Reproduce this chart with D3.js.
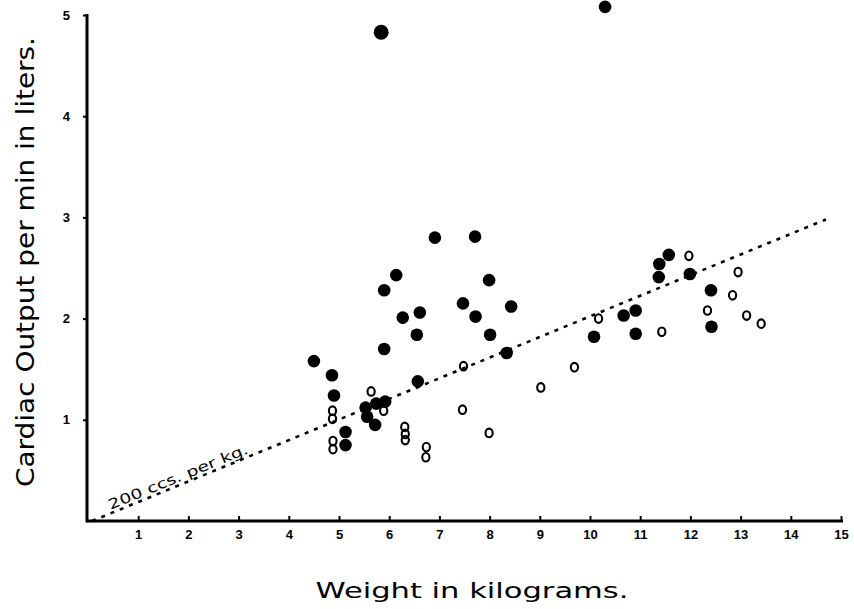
<!DOCTYPE html>
<html>
<head>
<meta charset="utf-8">
<script src="https://cdn.jsdelivr.net/npm/d3@7"></script>
<style>
  html, body { margin: 0; padding: 0; background: #fff; }
  svg { display: block; font-family: "DejaVu Sans", sans-serif; }
</style>
</head>
<body>
<div id="vis"></div>
<script>
// weight (kg) and cardiac output (L/min), filled dots
const filledKg = [5.84, 10.3, 4.5, 4.86, 4.9, 5.13, 5.13, 5.53, 5.74, 5.92, 5.56, 5.72, 6.57, 5.9,
  6.91, 7.71, 6.14, 5.9, 7.99, 7.47, 8.43, 6.61, 6.27, 7.72, 6.55, 8.01, 8.34,
  11.57, 11.38, 11.37, 11.99, 12.41, 12.42, 10.91, 10.67, 10.91, 10.08];
const filledOut = [4.83, 5.08, 1.58, 1.44, 1.24, 0.88, 0.75, 1.12, 1.16, 1.18, 1.03, 0.95, 1.38, 1.7,
  2.8, 2.81, 2.43, 2.28, 2.38, 2.15, 2.12, 2.06, 2.01, 2.02, 1.84, 1.84, 1.66,
  2.63, 2.54, 2.41, 2.44, 2.28, 1.92, 2.08, 2.03, 1.85, 1.82];
const filledBig = [true]; // first dot is drawn larger

// open circles
const openKg = [4.87, 4.87, 4.88, 4.88, 5.64, 5.89, 6.31, 6.32, 6.32, 6.74, 6.73,
  7.48, 7.46, 7.99, 9.02, 9.69, 10.17, 11.43, 11.97, 12.95, 12.84, 12.34, 13.12, 13.41];
const openOut = [1.09, 1.01, 0.79, 0.71, 1.28, 1.09, 0.93, 0.86, 0.8, 0.73, 0.63,
  1.53, 1.1, 0.87, 1.32, 1.52, 2.0, 1.87, 2.62, 2.46, 2.23, 2.08, 2.03, 1.95];

// reference line, 200 ccs per kg
const refKg = [0.08, 14.7];
const refOut = [0.0, 2.98];

const xTicks = [1, 2, 3, 4, 5, 6, 7, 8, 9, 10, 11, 12, 13, 14, 15];
const yTicks = [1, 2, 3, 4, 5];

const width = 854;
const height = 609;

const svg = d3.select("#vis").append("svg")
  .attr("width", width)
  .attr("height", height);

const x = d3.scaleLinear().domain([0, 15]).range([88, 841]);
const y = d3.scaleLinear().domain([0, 5]).range([521, 15]);

// x axis, ticks point up, labels below
const xAxis = svg.append("g")
  .attr("transform", `translate(0,${y(0)})`)
  .call(d3.axisBottom(x).tickValues(xTicks).tickFormat(d3.format("d"))
    .tickSize(-5).tickSizeOuter(0).tickPadding(9));
xAxis.select(".domain").remove();
xAxis.selectAll("line").attr("stroke", "#000").attr("stroke-width", 2);
xAxis.selectAll("text")
  .attr("font-size", 13).attr("font-weight", "bold").attr("fill", "#000");
svg.append("line")
  .attr("x1", x(0) - 1).attr("x2", x(15) + 2)
  .attr("y1", y(0)).attr("y2", y(0))
  .attr("stroke", "#000").attr("stroke-width", 3);

// y axis
const yAxis = svg.append("g")
  .attr("transform", `translate(${x(0) - 1},0)`)
  .call(d3.axisLeft(y).tickValues(yTicks).tickFormat(d3.format("d"))
    .tickSize(4).tickSizeOuter(0).tickPadding(13));
yAxis.select(".domain").remove();
yAxis.selectAll("line").attr("stroke", "#000").attr("stroke-width", 2);
yAxis.selectAll("text")
  .attr("font-size", 13).attr("font-weight", "bold").attr("fill", "#000");
svg.append("line")
  .attr("x1", x(0) - 1).attr("x2", x(0) - 1)
  .attr("y1", y(0) + 1.5).attr("y2", y(5) - 1)
  .attr("stroke", "#000").attr("stroke-width", 3);

// dotted reference line
svg.append("line")
  .attr("x1", x(refKg[0])).attr("y1", y(refOut[0]))
  .attr("x2", x(refKg[1])).attr("y2", y(refOut[1]))
  .attr("stroke", "#000").attr("stroke-width", 2.6)
  .attr("stroke-dasharray", "4,6");

const angle = Math.atan2(y(refOut[1]) - y(refOut[0]), x(refKg[1]) - x(refKg[0])) * 180 / Math.PI;
svg.append("text")
  .attr("transform", `translate(${x(0.45)},${y(0.11)}) rotate(${angle})`)
  .attr("font-size", 14)
  .attr("textLength", 150)
  .attr("lengthAdjust", "spacingAndGlyphs")
  .text("200 ccs. per kg.");

// open circles
svg.append("g").selectAll("ellipse")
  .data(openKg.map((k, i) => ({ k, v: openOut[i] })))
  .join("ellipse")
  .attr("cx", d => x(d.k))
  .attr("cy", d => y(d.v))
  .attr("rx", 3.6)
  .attr("ry", 4.3)
  .attr("fill", "none")
  .attr("stroke", "#000")
  .attr("stroke-width", 2.1);

// filled dots
svg.append("g").selectAll("circle")
  .data(filledKg.map((k, i) => ({ k, v: filledOut[i], big: filledBig[i] })))
  .join("circle")
  .attr("cx", d => x(d.k))
  .attr("cy", d => y(d.v))
  .attr("r", d => d.big ? 7.5 : 6.3)
  .attr("fill", "#000");

// axis titles
svg.append("text")
  .attr("transform", `translate(34,262) rotate(-90)`)
  .attr("text-anchor", "middle")
  .attr("font-size", 25)
  .attr("textLength", 450)
  .attr("lengthAdjust", "spacingAndGlyphs")
  .text("Cardiac Output per min in liters.");

svg.append("text")
  .attr("x", 472)
  .attr("y", 598)
  .attr("text-anchor", "middle")
  .attr("font-size", 22)
  .attr("textLength", 313)
  .attr("lengthAdjust", "spacingAndGlyphs")
  .text("Weight in kilograms.");
</script>
</body>
</html>
